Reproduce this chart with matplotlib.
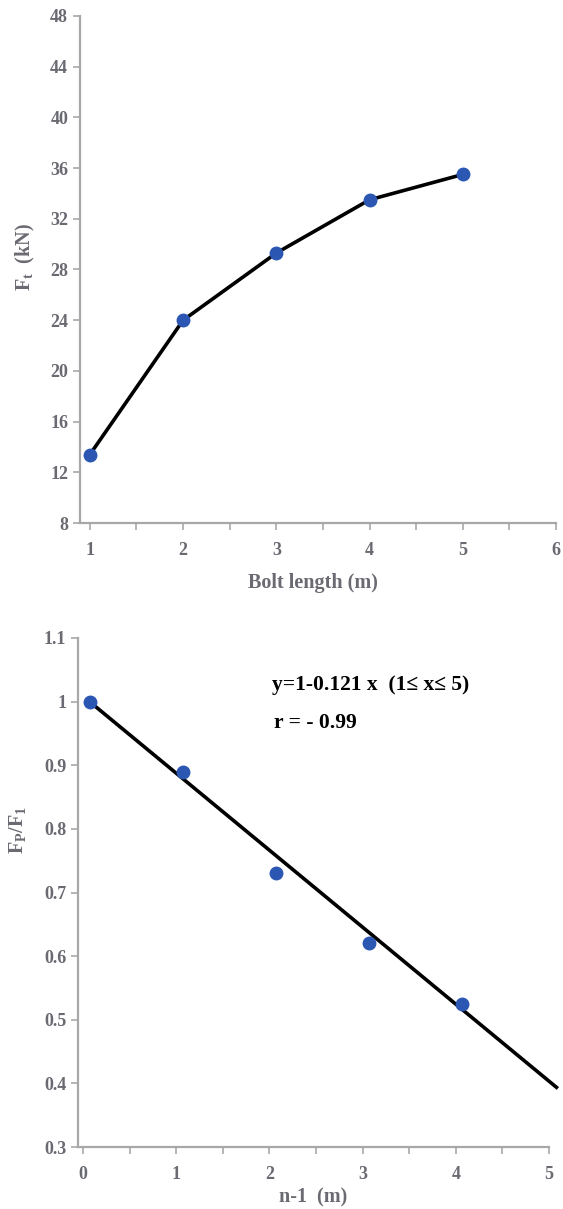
import matplotlib
matplotlib.use('Agg')
import matplotlib.pyplot as plt
import numpy as np

plt.rcParams['font.family'] = ['Liberation Serif', 'DejaVu Serif']
plt.rcParams['font.weight'] = 'bold'
plt.rcParams['mathtext.fontset'] = 'custom'
plt.rcParams['mathtext.rm'] = 'Liberation Serif:bold'
plt.rcParams['mathtext.bf'] = 'Liberation Serif:bold'
plt.rcParams['mathtext.it'] = 'Liberation Serif:bold'

# top chart: tensile force vs bolt length
bolt_length = [1, 2, 3, 4, 5]
force_kn = [13.4, 24.0, 29.3, 33.5, 35.5]

# bottom chart: load ratio vs n-1
n_minus_1 = [0.07, 1.07, 2.07, 3.07, 4.07]
ratio = [1.0, 0.89, 0.73, 0.62, 0.525]
fit_intercept = 1.0
fit_slope = -0.121
fit_range = [0.07, 5.08]

gray = '#6a6a72'
spine_c = '#a8a8a8'
dot_c = '#2b57b3'

W, H = 563, 1209
fig = plt.figure(figsize=(W / 100, H / 100), dpi=100)


def style(ax):
    for s in ['top', 'right']:
        ax.spines[s].set_visible(False)
    for s in ['left', 'bottom']:
        ax.spines[s].set_color(spine_c)
        ax.spines[s].set_linewidth(1.6)
    ax.tick_params(axis='both', which='both', direction='out', color=spine_c,
                   width=1.2, labelcolor=gray, labelsize=13)
    ax.tick_params(axis='both', which='major', length=5)
    ax.tick_params(axis='x', which='minor', length=5)
    for lab in ax.get_xticklabels() + ax.get_yticklabels():
        lab.set_fontweight('bold')


# ---- top ----
ax1 = fig.add_axes([80 / W, 1 - 523 / H, 476 / W, (523 - 16) / H])
ax1.plot(bolt_length, force_kn, color='black', lw=2.6, zorder=2)
ax1.plot(bolt_length, force_kn, 'o', color=dot_c, ms=9, zorder=3)
ax1.set_xlim(0.894, 6.0)
ax1.set_ylim(8, 48)
ax1.set_xticks([1, 2, 3, 4, 5, 6])
ax1.set_xticks([1.5, 2.5, 3.5, 4.5, 5.5], minor=True)
ax1.set_yticks(np.arange(8, 49, 4))
style(ax1)
ax1.tick_params(axis='x', pad=9)
ax1.set_xlabel('Bolt length (m)', color=gray, fontsize=14.5, fontweight='bold')
ax1.xaxis.set_label_coords(0.49, -0.098)
ax1.set_ylabel(r'F$_\mathrm{t}$  (kN)', color=gray, fontsize=14.5, fontweight='bold')
ax1.yaxis.set_label_coords(-0.09, 0.525)

# ---- bottom ----
ax2 = fig.add_axes([78 / W, 1 - 1147 / H, 471 / W, (1147 - 638) / H])
xf = np.array(fit_range)
ax2.plot(xf, fit_intercept + fit_slope * (xf - fit_range[0]), color='black',
         lw=2.6, zorder=2, clip_on=False)
ax2.plot(n_minus_1, ratio, 'o', color=dot_c, ms=9, zorder=3)
ax2.set_xlim(-0.054, 5.0)
ax2.set_ylim(0.3, 1.1)
ax2.set_xticks([0, 1, 2, 3, 4, 5])
ax2.set_xticks([0.5, 1.5, 2.5, 3.5, 4.5], minor=True)
ax2.set_yticks([0.3, 0.4, 0.5, 0.6, 0.7, 0.8, 0.9, 1.0, 1.1])
ax2.set_yticklabels(['0.3', '0.4', '0.5', '0.6', '0.7', '0.8', '0.9', '1', '1.1'])
style(ax2)
ax2.tick_params(axis='x', pad=9)
ax2.set_xlabel('n-1  (m)', color=gray, fontsize=14.5, fontweight='bold')
ax2.xaxis.set_label_coords(0.5, -0.08)
ax2.set_ylabel(r'F$_\mathrm{P}$/F$_\mathrm{1}$', color=gray, fontsize=14.5, fontweight='bold')
ax2.yaxis.set_label_coords(-0.106, 0.623)
ax2.text(194 / 471, (1147 - 685) / 509, 'y=1-0.121 x  (1≤ x≤ 5)', transform=ax2.transAxes,
         fontsize=15.5, fontweight='bold', color='black', va='center')
ax2.text(196 / 471, (1147 - 723) / 509, 'r = - 0.99', transform=ax2.transAxes,
         fontsize=15.5, fontweight='bold', color='black', va='center')

fig.savefig('out.png', dpi=100)
